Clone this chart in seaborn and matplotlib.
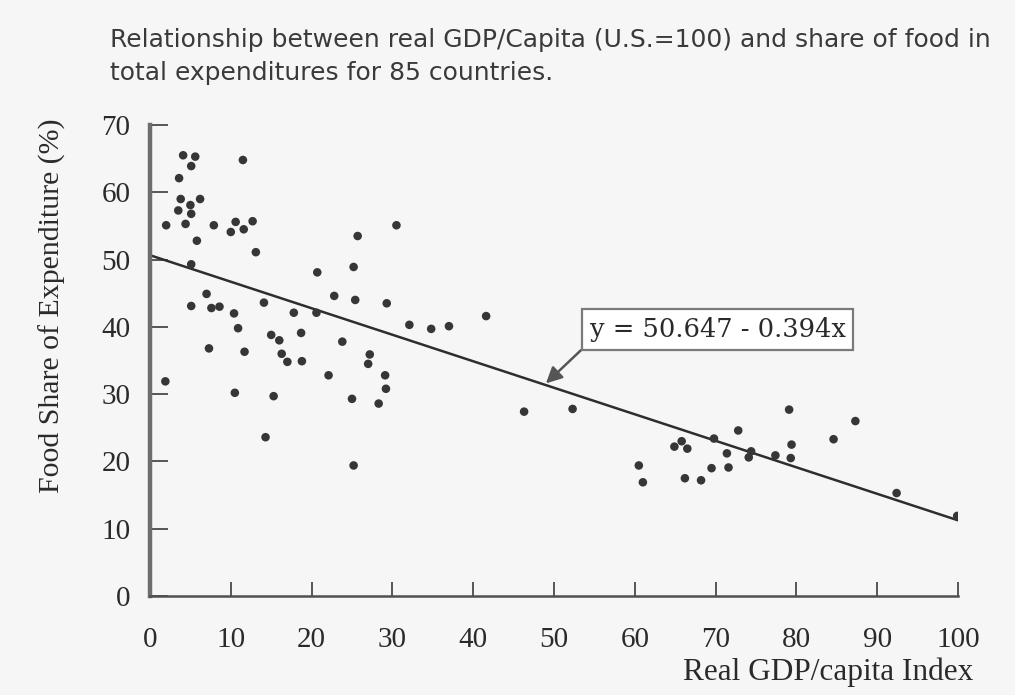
import matplotlib
matplotlib.use("Agg")
import matplotlib.pyplot as plt
import seaborn as sns
import pandas as pd

# values (85 countries)
gdp_index = [4.1, 5.6, 5.1, 11.5, 3.6, 3.8, 6.2, 5.0, 5.1, 3.5,
             2.0, 4.4, 7.9, 10.6, 12.7, 10.0, 11.6, 5.8, 30.5, 25.7,
             13.1, 5.1, 20.7, 25.2, 7.0, 5.1, 7.6, 8.6, 10.4, 14.1,
             22.8, 25.4, 29.3, 17.8, 20.6, 32.1, 10.9, 23.8, 15.0, 16.0,
             18.7, 7.3, 11.7, 27.2, 16.3, 17.0, 18.8, 27.0, 22.1, 29.1,
             29.2, 1.9, 10.5, 15.3, 25.0, 28.3, 14.3, 25.2, 34.8, 37.0,
             41.6, 46.3, 52.3, 60.5, 61.0, 65.8, 66.5, 64.9, 66.2, 68.2,
             69.8, 69.5, 71.6, 72.8, 71.4, 74.4, 74.1, 77.4, 79.1, 79.4,
             79.3, 84.6, 87.3, 92.4, 99.9]
food_share = [65.5, 65.3, 63.9, 64.8, 62.1, 59.0, 59.0, 58.1, 56.8, 57.3,
              55.1, 55.3, 55.1, 55.6, 55.7, 54.1, 54.5, 52.8, 55.1, 53.5,
              51.1, 49.3, 48.1, 48.9, 44.9, 43.1, 42.8, 43.0, 42.0, 43.6,
              44.6, 44.0, 43.5, 42.1, 42.1, 40.3, 39.8, 37.8, 38.8, 38.0,
              39.1, 36.8, 36.3, 35.9, 36.0, 34.8, 34.9, 34.5, 32.8, 32.8,
              30.8, 31.9, 30.2, 29.7, 29.3, 28.6, 23.6, 19.4, 39.7, 40.1,
              41.6, 27.4, 27.8, 19.4, 16.9, 23.0, 21.9, 22.2, 17.5, 17.2,
              23.4, 19.0, 19.1, 24.6, 21.2, 21.5, 20.6, 20.9, 27.7, 22.5,
              20.5, 23.3, 26.0, 15.3, 11.9]

# fitted line as printed on the chart
intercept = 50.647
slope = -0.394
fit_range = [0, 100]

x_ticks = [0, 10, 20, 30, 40, 50, 60, 70, 80, 90, 100]
y_ticks = [0, 10, 20, 30, 40, 50, 60, 70]

sns.set_style("ticks")
plt.rcParams['font.family'] = ['Liberation Serif', 'DejaVu Serif']

bg = '#f6f6f6'
ink = '#2a2a2a'
fig = plt.figure(figsize=(10.15, 6.95), dpi=100, facecolor=bg)
ax = fig.add_axes([150 / 1015, 1 - 596 / 695, 808 / 1015, 471 / 695])
ax.set_facecolor(bg)

df = pd.DataFrame({'gdp': gdp_index, 'food': food_share})
sns.scatterplot(data=df, x='gdp', y='food', ax=ax, color='#363636',
                s=38, edgecolor='none', marker='o', zorder=3)

fit = pd.DataFrame({'x': fit_range,
                    'y': [intercept + slope * v for v in fit_range]})
sns.lineplot(data=fit, x='x', y='y', ax=ax, color='#2e2e2e', linewidth=1.8)

ax.set_xlim(0, 100)
ax.set_ylim(0, 70)
ax.set_xticks(x_ticks)
ax.set_yticks(y_ticks)
ax.tick_params(direction='in', width=1.3, colors='#4a4a4a',
               labelsize=21, labelcolor=ink)
ax.tick_params(axis='x', length=10, pad=22)
ax.tick_params(axis='y', length=13, pad=14)
sns.despine(ax=ax)
ax.spines['left'].set_linewidth(3.2)
ax.spines['left'].set_color('#6e6e6e')
ax.spines['bottom'].set_linewidth(1.8)
ax.spines['bottom'].set_color('#505050')

ax.set_xlabel('')
ax.set_ylabel('')
fig.text(52 / 1015, 1 - 306 / 695, 'Food Share of Expenditure (%)',
         rotation=90, ha='center', va='center', fontsize=21.5, color=ink)
fig.text(973 / 1015, 1 - 680 / 695, 'Real GDP/capita Index', ha='right',
         va='baseline', fontsize=22.5, color=ink)

ax.annotate(f'y = {intercept:.3f} - {abs(slope):.3f}x', xy=(49, 31.6),
            xytext=(54.4, 39.6), fontsize=18.5, color=ink, va='center',
            family=['DejaVu Serif'],
            bbox=dict(boxstyle='square,pad=0.3', fc='white', ec='#7a7a7a', lw=1.6),
            arrowprops=dict(arrowstyle='-|>', color='#555555', lw=1.8,
                            mutation_scale=24, shrinkA=0, shrinkB=0,
                            relpos=(0.0, 0.0)))

title_font = ['DejaVu Sans']
fig.text(110 / 1015, 1 - 47 / 695,
         'Relationship between real GDP/Capita (U.S.=100) and share of food in',
         family=title_font, fontsize=18, color='#3a3a3a', va='baseline')
fig.text(110 / 1015, 1 - 80 / 695, 'total expenditures for 85 countries.',
         family=title_font, fontsize=18, color='#3a3a3a', va='baseline')

fig.savefig('out.png', dpi=100, facecolor=bg)
